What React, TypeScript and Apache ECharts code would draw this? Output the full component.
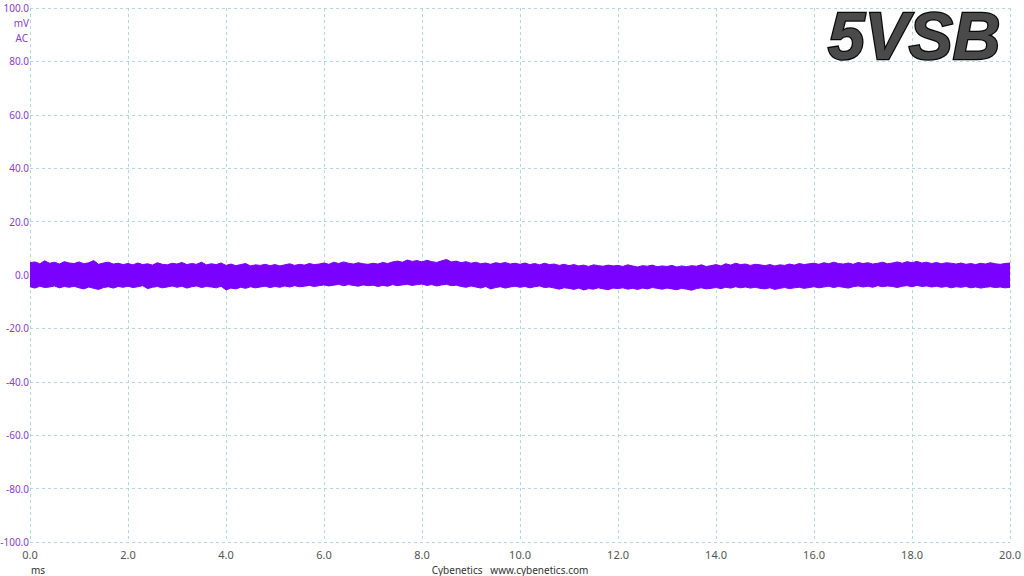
import React, { useEffect, useRef } from "react";
import * as echarts from "echarts";

const X_MIN = 0;
const X_MAX = 20;
const X_STEP = 0.1;
const Y_MIN = -100;
const Y_MAX = 100;

// upper envelope of the ripple trace (mV), sampled every 0.1 ms
const upperEnvelope = [
  4.6, 4.9, 4.2, 5.3, 4.4, 4.8, 4.1, 5.0, 4.5, 4.3,
  4.9, 4.2, 4.6, 5.4, 4.0, 4.5, 4.8, 4.1, 4.4, 3.9,
  4.3, 3.8, 4.5, 3.9, 4.2, 3.7, 4.6, 4.0, 3.8, 4.4,
  4.1, 4.7, 3.9, 4.3, 4.0, 4.8, 3.8, 4.2, 3.9, 4.5,
  3.6, 4.1, 3.5, 3.9, 4.3, 3.4, 3.8, 3.6, 4.0, 3.5,
  3.9, 3.4, 3.8, 4.2, 3.6, 4.0, 3.7, 4.3, 3.9, 4.1,
  4.5, 4.0, 4.8, 4.3, 4.9, 4.4, 4.1, 4.6, 4.2, 4.0,
  4.4, 4.1, 4.7, 4.3, 4.9, 5.2, 4.8, 5.6, 5.1, 5.4,
  4.9, 5.5, 5.0, 4.7, 5.3, 5.8, 4.9, 5.2, 4.6, 5.0,
  4.4, 4.8, 4.2, 4.5, 4.0, 4.6, 4.3, 4.7, 4.1, 4.4,
  4.0, 4.5, 3.9, 4.3, 3.8, 4.4, 3.9, 4.1, 3.6, 4.0,
  3.5, 3.9, 3.4, 3.7, 3.2, 3.8, 3.5, 3.3, 3.7, 3.4,
  3.6, 3.2, 3.8, 3.4, 3.0, 3.5, 3.3, 3.7, 3.1, 3.4,
  3.2, 3.6, 3.0, 3.4, 3.1, 3.5, 3.3, 3.8, 3.2, 3.5,
  3.9, 3.4, 4.2, 3.7, 4.4, 3.9, 4.1, 3.6, 4.0, 3.8,
  3.5, 3.9, 3.4, 3.8, 3.6, 4.1, 3.7, 4.3, 3.9, 4.2,
  4.4, 4.0, 4.6, 4.2, 4.8, 4.3, 4.1, 4.5, 4.0, 4.7,
  4.3, 4.6, 4.1, 4.4, 4.8, 4.2, 4.5, 4.9, 4.4, 5.0,
  4.6, 5.1, 4.5, 4.8, 4.3, 4.7, 4.2, 4.6, 4.4, 4.1,
  4.5, 4.0, 4.3, 3.9, 4.4, 4.1, 4.6, 4.2, 4.0, 4.3,
  4.5,
];

// lower envelope of the ripple trace (mV), sampled every 0.1 ms
const lowerEnvelope = [
  -4.4, -4.9, -4.2, -4.7, -4.5, -4.1, -4.8, -4.3, -4.6, -4.2,
  -4.8, -5.2, -4.5, -5.0, -5.4, -4.7, -4.4, -4.9, -4.3, -4.6,
  -4.2, -4.7, -4.4, -4.0, -5.1, -4.6, -4.3, -4.8, -4.5, -4.1,
  -4.6, -4.2, -4.9, -4.4, -4.1, -4.7, -4.3, -4.5, -4.8, -4.2,
  -5.6, -4.9, -5.2, -4.6, -5.0, -4.4, -4.8, -4.5, -4.2, -4.7,
  -4.3, -4.6, -4.1, -4.5, -4.0, -4.4, -4.2, -3.9, -4.3, -4.0,
  -3.7, -4.1, -3.8, -3.5, -4.0, -3.6, -3.9, -4.2, -3.7, -4.0,
  -3.8, -4.3, -3.9, -4.2, -3.6, -4.0, -3.7, -3.5, -3.9, -3.6,
  -3.4, -3.9, -3.6, -4.1, -3.7, -3.5, -4.0, -3.8, -4.3, -4.6,
  -4.1, -4.5, -4.9, -4.3, -5.2, -4.7, -4.4, -4.9, -4.5, -4.2,
  -4.6, -4.3, -4.8, -4.4, -4.1, -4.7, -4.5, -4.9, -5.3, -4.8,
  -5.0, -5.4, -4.9, -5.6, -5.1, -5.3, -4.8, -5.2, -5.5, -4.9,
  -5.1, -4.8, -5.3, -5.0, -5.4, -4.9, -5.2, -4.7, -5.0, -5.3,
  -4.9, -5.2, -5.5, -5.0, -5.3, -5.7, -5.1, -4.8, -5.2, -5.0,
  -4.7, -5.1, -4.6, -4.9, -4.4, -4.8, -4.5, -4.9, -4.6, -5.0,
  -5.2, -4.8, -5.4, -5.0, -4.7, -5.1, -4.8, -4.6, -5.0, -4.7,
  -4.4, -4.8, -4.5, -4.2, -4.7, -4.3, -4.6, -4.9, -4.4, -4.1,
  -4.5, -4.2, -4.6, -4.0, -4.4, -4.1, -4.3, -4.7, -4.2, -4.0,
  -4.4, -3.9, -4.3, -4.1, -4.5, -4.2, -4.6, -4.3, -4.8, -4.4,
  -4.6, -4.3, -4.8, -4.5, -4.9, -4.6, -4.4, -4.7, -4.5, -4.8,
  -4.6,
];

const TITLE = "5VSB";
const Y_UNIT_LINES = ["mV", "AC"];
const X_UNIT = "ms";
const FOOTER = "Cybenetics   www.cybenetics.com";

const TRACE_COLOR = "#7a00ff";
const Y_LABEL_COLOR = "#8a3dcc";
const GRID_COLOR = "#b0d9e2";

export default function App() {
  const ref = useRef<HTMLDivElement>(null);

  useEffect(() => {
    if (!ref.current) return;
    const chart = echarts.init(ref.current, undefined, { renderer: "svg" });

    const upperData = upperEnvelope.map((v, i) => [+(X_MIN + i * X_STEP).toFixed(2), v]);
    const lowerData = lowerEnvelope.map((v, i) => [+(X_MIN + i * X_STEP).toFixed(2), v]);

    const font = '"Noto Sans", "Open Sans", sans-serif';

    chart.setOption({
      animation: false,
      backgroundColor: "#ffffff",
      grid: {
        left: 30,
        right: 14,
        top: 8,
        bottom: 34,
        containLabel: false,
        outerBoundsMode: "none",
      },
      xAxis: {
        type: "value",
        min: X_MIN,
        max: X_MAX,
        interval: 2,
        axisLine: { show: false },
        axisTick: { show: false },
        axisLabel: {
          color: "#555555",
          fontSize: 11,
          fontFamily: font,
          margin: 7,
          formatter: (v: number) => v.toFixed(1),
        },
        splitLine: { show: true, lineStyle: { color: GRID_COLOR, type: [3, 3], width: 1 } },
      },
      yAxis: {
        type: "value",
        min: Y_MIN,
        max: Y_MAX,
        interval: 20,
        axisLine: { show: false },
        axisTick: { show: false },
        axisLabel: {
          color: Y_LABEL_COLOR,
          fontSize: 10,
          fontFamily: font,
          margin: 1,
          formatter: (v: number) => v.toFixed(1),
        },
        splitLine: { show: true, lineStyle: { color: GRID_COLOR, type: [3, 3], width: 1 } },
      },
      series: [
        {
          type: "line",
          data: upperData,
          symbol: "none",
          lineStyle: { color: TRACE_COLOR, width: 1 },
          areaStyle: { color: TRACE_COLOR, opacity: 1, origin: 0 },
          silent: true,
          z: 3,
        },
        {
          type: "line",
          data: lowerData,
          symbol: "none",
          lineStyle: { color: TRACE_COLOR, width: 1 },
          areaStyle: { color: TRACE_COLOR, opacity: 1, origin: 0 },
          silent: true,
          z: 3,
        },
      ],
      graphic: [
        {
          type: "text",
          x: 29,
          y: 23,
          style: {
            text: Y_UNIT_LINES[0],
            fill: Y_LABEL_COLOR,
            font: `10px ${font}`,
            align: "right",
            verticalAlign: "middle",
          },
        },
        {
          type: "text",
          x: 28,
          y: 38,
          style: {
            text: Y_UNIT_LINES[1],
            fill: Y_LABEL_COLOR,
            font: `10px ${font}`,
            align: "right",
            verticalAlign: "middle",
          },
        },
        {
          type: "text",
          x: 38,
          y: 570,
          style: {
            text: X_UNIT,
            fill: "#333333",
            font: `10px ${font}`,
            align: "center",
            verticalAlign: "middle",
          },
        },
        {
          type: "text",
          x: 510,
          y: 570,
          style: {
            text: FOOTER,
            fill: "#333333",
            font: `10px ${font}`,
            align: "center",
            verticalAlign: "middle",
          },
        },
        {
          type: "text",
          x: 828,
          y: 3,
          z: 10,
          style: {
            text: TITLE,
            font: 'italic bold 66px "Liberation Sans", Arial, sans-serif',
            fill: "#4a4a4a",
            stroke: "#0a0a0a",
            lineWidth: 2.5,
            shadowColor: "rgba(0,0,0,0.3)",
            shadowBlur: 3,
            shadowOffsetX: 2,
            shadowOffsetY: 2,
            verticalAlign: "top",
          },
        },
      ],
    });

    return () => chart.dispose();
  }, []);

  return (
    <div
      ref={ref}
      style={{ position: "absolute", left: 0, top: 0, width: 1024, height: 576 }}
    />
  );
}
